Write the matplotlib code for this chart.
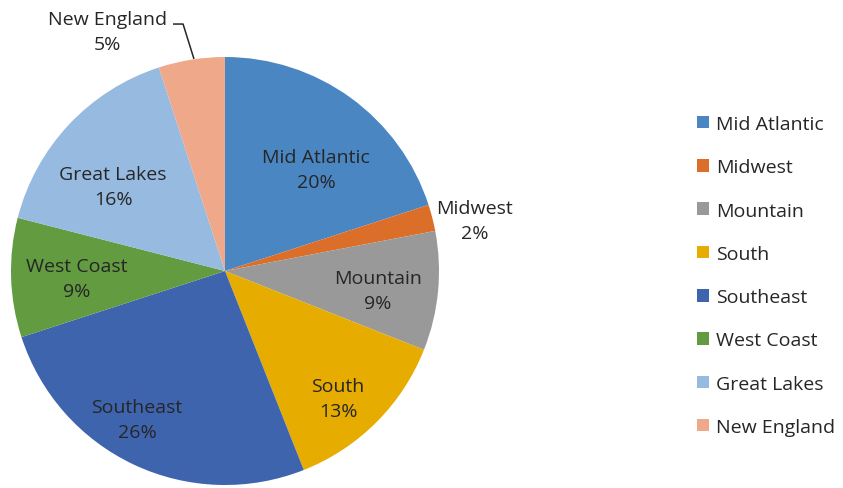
import matplotlib
matplotlib.use("Agg")
import matplotlib.pyplot as plt
from matplotlib.patches import Patch

categories = ["Mid Atlantic", "Midwest", "Mountain", "South", "Southeast",
              "West Coast", "Great Lakes", "New England"]
values = [20, 2, 9, 13, 26, 9, 16, 5]
colors = ["#4A86C2", "#DB6F2A", "#999999", "#E6AD00", "#3E64AE",
          "#629B40", "#97BAE0", "#F0A88A"]

# label positions in axis units (pie radius = 1)
label_pos = [(0.425, 0.472), (1.168, 0.238), (0.715, -0.093), (0.528, -0.598),
             (-0.411, -0.692), (-0.692, -0.037), (-0.523, 0.397), (-0.551, 1.117)]

plt.rcParams['font.family'] = ['Open Sans', 'DejaVu Sans']
W, H = 843, 489
fig = plt.figure(figsize=(W / 100, H / 100), dpi=100)
cx, cy, r = 225, 272, 214
ax = fig.add_axes([(cx - r) / W, (H - cy - r) / H, 2 * r / W, 2 * r / H])
ax.pie(values, colors=colors, startangle=90, counterclock=False, radius=1,
       center=(0, 0), wedgeprops=dict(linewidth=0))
ax.set_xlim(-1, 1)
ax.set_ylim(-1, 1)
ax.set_aspect('equal')
ax.axis('off')

total = sum(values)
txtc = "#262626"
fs = 14.0
for cat, v, (x, y) in zip(categories, values, label_pos):
    ax.text(x, y, f"{cat}\n{round(100 * v / total)}%", ha='center', va='center',
            fontsize=fs, color=txtc, linespacing=1.5, clip_on=False)

# leader line for New England
ax.plot([-0.243, -0.196, -0.145], [1.154, 1.154, 0.991], color="#262626",
        lw=1.1, clip_on=False, solid_capstyle='butt')

handles = [Patch(facecolor=c, edgecolor='none') for c in colors]
fig.legend(handles, categories, loc='upper left',
           bbox_to_anchor=(697 / W, 1 - 116 / H), frameon=False,
           fontsize=fs, labelcolor=txtc, handlelength=0.62, handleheight=0.62,
           handletextpad=0.35, labelspacing=1.3, borderpad=0, borderaxespad=0)

fig.savefig("out.png", dpi=100)
